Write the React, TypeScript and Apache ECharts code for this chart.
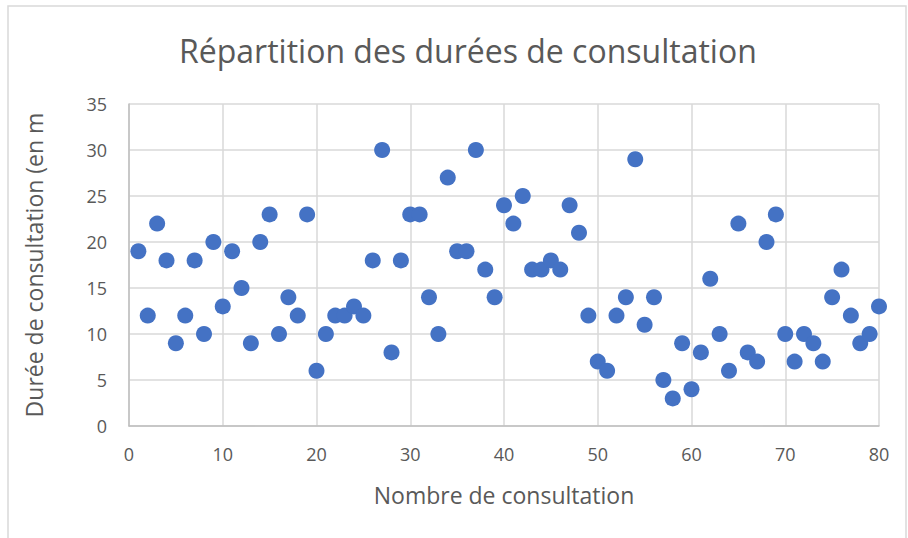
import React, { useEffect, useRef } from "react";
import * as echarts from "echarts";

const consultationNumbers = [
  1, 2, 3, 4, 5, 6, 7, 8, 9, 10, 11, 12, 13, 14, 15, 16, 17, 18, 19, 20,
  21, 22, 23, 24, 25, 26, 27, 28, 29, 30, 31, 32, 33, 34, 35, 36, 37, 38, 39, 40,
  41, 42, 43, 44, 45, 46, 47, 48, 49, 50, 51, 52, 53, 54, 55, 56, 57, 58, 59, 60,
  61, 62, 63, 64, 65, 66, 67, 68, 69, 70, 71, 72, 73, 74, 75, 76, 77, 78, 79, 80,
];
const durations = [
  19, 12, 22, 18, 9, 12, 18, 10, 20, 13, 19, 15, 9, 20, 23, 10, 14, 12, 23, 6,
  10, 12, 12, 13, 12, 18, 30, 8, 18, 23, 23, 14, 10, 27, 19, 19, 30, 17, 14, 24,
  22, 25, 17, 17, 18, 17, 24, 21, 12, 7, 6, 12, 14, 29, 11, 14, 5, 3, 9, 4,
  8, 16, 10, 6, 22, 8, 7, 20, 23, 10, 7, 10, 9, 7, 14, 17, 12, 9, 10, 13,
];
const chartTitle = "Répartition des durées de consultation";
const xAxisTitle = "Nombre de consultation";
const yAxisTitle = "Durée de consultation (en m";

export default function App() {
  const ref = useRef<HTMLDivElement>(null);
  useEffect(() => {
    document.body.style.margin = "0";
    const chart = echarts.init(ref.current!, null, { renderer: "svg" });
    const font = "'Open Sans', sans-serif";
    const gray = "#595959";
    const gridColor = "#d9d9d9";
    const axisColor = "#bfbfbf";
    chart.setOption({
      animation: false,
      backgroundColor: "#ffffff",
      title: {
        text: chartTitle,
        left: 174,
        top: 29,
        textStyle: { fontFamily: font, fontSize: 32, fontWeight: "normal", color: gray },
      },
      graphic: [
        {
          type: "rect",
          shape: { x: 8, y: 6, width: 898, height: 1000 },
          style: { fill: "none", stroke: gridColor, lineWidth: 1.5 },
          silent: true,
        },
      ],
      grid: { left: 129, right: 29, top: 104, bottom: 112 },
      xAxis: {
        type: "value",
        min: 0,
        max: 80,
        interval: 10,
        name: xAxisTitle,
        nameLocation: "middle",
        nameGap: 57,
        nameTextStyle: { fontFamily: font, fontSize: 23, color: gray },
        axisLine: { show: true, lineStyle: { color: axisColor, width: 1.5 } },
        axisTick: { show: false },
        axisLabel: { fontFamily: font, fontSize: 18, color: gray, margin: 19 },
        splitLine: { show: true, lineStyle: { color: gridColor, width: 1.5 } },
      },
      yAxis: {
        type: "value",
        min: 0,
        max: 35,
        interval: 5,
        name: yAxisTitle,
        nameLocation: "middle",
        nameRotate: 90,
        nameGap: 84,
        nameTextStyle: { fontFamily: font, fontSize: 23, color: gray },
        axisLine: { show: true, lineStyle: { color: axisColor, width: 1.5 } },
        axisTick: { show: false },
        axisLabel: { fontFamily: font, fontSize: 18, color: gray, margin: 22 },
        splitLine: { show: true, lineStyle: { color: gridColor, width: 1.5 } },
      },
      series: [
        {
          type: "scatter",
          symbol: "circle",
          symbolSize: 16,
          itemStyle: { color: "#4472C4", opacity: 1 },
          data: consultationNumbers.map((x, i) => [x, durations[i]]),
        },
      ],
    });
    return () => chart.dispose();
  }, []);
  return <div ref={ref} style={{ width: 908, height: 538 }} />;
}
